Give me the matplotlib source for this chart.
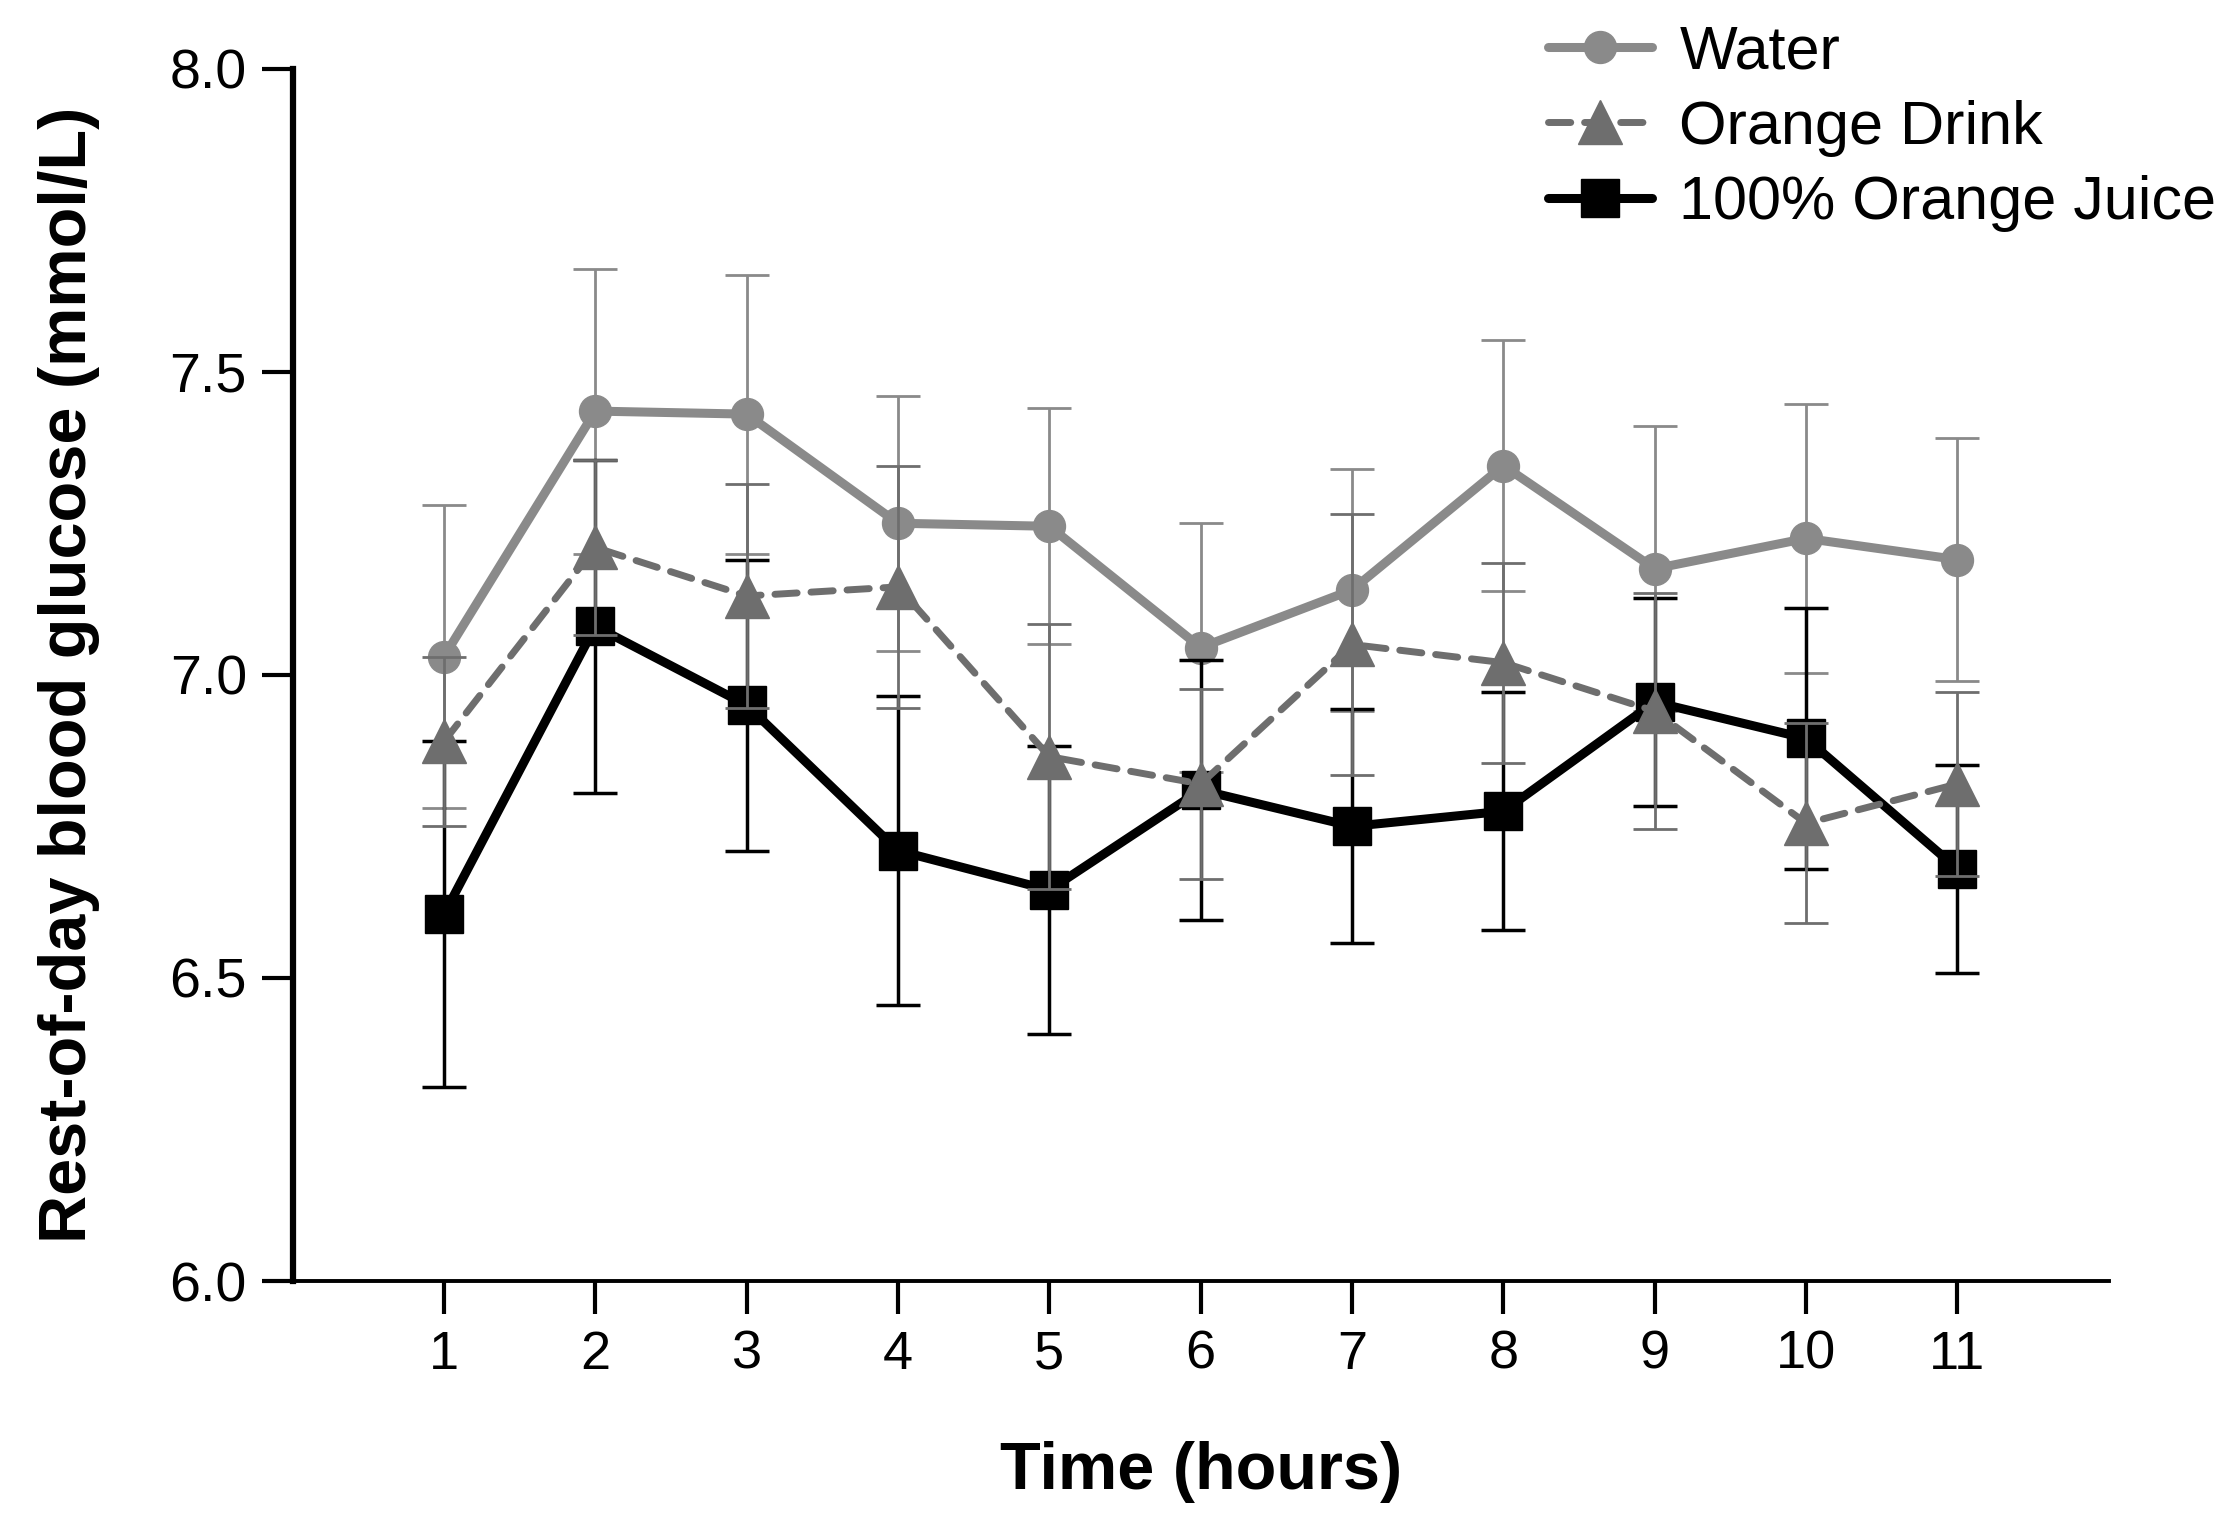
import numpy as np
import matplotlib
matplotlib.use("Agg")
import matplotlib.pyplot as plt
from matplotlib.lines import Line2D

plt.rcParams["font.family"] = ["Liberation Sans", "DejaVu Sans"]

# data
hours = [1, 2, 3, 4, 5, 6, 7, 8, 9, 10, 11]
water = [7.03, 7.435, 7.43, 7.25, 7.245, 7.045, 7.14, 7.345, 7.175, 7.225, 7.19]
water_se = [0.25, 0.235, 0.23, 0.21, 0.195, 0.205, 0.20, 0.207, 0.235, 0.222, 0.20]
drink = [6.89, 7.21, 7.13, 7.145, 6.865, 6.82, 7.05, 7.02, 6.94, 6.755, 6.82]
drink_se = [0.14, 0.145, 0.185, 0.20, 0.218, 0.157, 0.215, 0.165, 0.195, 0.165, 0.152]
juice = [6.605, 7.08, 6.95, 6.71, 6.645, 6.81, 6.75, 6.775, 6.955, 6.895, 6.68]
juice_se = [0.285, 0.275, 0.24, 0.255, 0.238, 0.215, 0.193, 0.196, 0.172, 0.216, 0.172]
labels = ["Water", "Orange Drink", "100% Orange Juice"]

c_water = "#8a8a8a"
c_drink = "#6e6e6e"
c_juice = "#000000"

fig = plt.figure(figsize=(22.37, 15.30), dpi=100)
ax = fig.add_axes([0.1308, 0.1627, 0.8119, 0.7925])

# water at the bottom, drink on top
ax.errorbar(hours, water, yerr=water_se, color=c_water, marker="o", markersize=23,
	linewidth=6.5, elinewidth=2, capsize=16, capthick=2, ecolor=c_water, zorder=2)
ax.errorbar(hours, juice, yerr=juice_se, color=c_juice, marker="s", markersize=27,
	linewidth=6.5, elinewidth=2.5, capsize=16, capthick=2.5, ecolor=c_juice, zorder=3)
eb = ax.errorbar(hours, drink, yerr=drink_se, color=c_drink, marker="^", markersize=32,
	linewidth=5, elinewidth=2, capsize=16, capthick=2, ecolor=c_drink, zorder=4)
eb[0].set_linestyle((0, (3.2, 2.0)))
eb[0].set_dash_capstyle("round")

ax.set_xlim(0, 12)
ax.set_ylim(6.0, 8.0)
ax.set_xticks(hours)
ax.set_yticks([6.0, 6.5, 7.0, 7.5, 8.0])
ax.set_yticklabels(["6.0", "6.5", "7.0", "7.5", "8.0"])
ax.tick_params(axis="y", length=22, width=3, pad=11, labelsize=40)
ax.tick_params(axis="x", length=24, width=3, pad=11, labelsize=39)

ax.spines["top"].set_visible(False)
ax.spines["right"].set_visible(False)
ax.spines["left"].set_linewidth(4.5)
ax.spines["bottom"].set_linewidth(2.8)

ax.set_xlabel("Time (hours)", fontsize=48, fontweight="bold", labelpad=44)
ax.set_ylabel("Rest-of-day blood glucose (mmol/L)", fontsize=48, fontweight="bold", labelpad=50)

# legend with plain line+marker handles (no error bars)
handles = [
	Line2D([], [], color=c_water, marker="o", markersize=23, linewidth=6.5, solid_capstyle="round"),
	Line2D([], [], color=c_drink, marker="^", markersize=32, linewidth=5,
		linestyle=(0, (3.2, 2.0)), dash_capstyle="round"),
	Line2D([], [], color=c_juice, marker="s", markersize=27, linewidth=6.5, solid_capstyle="round"),
]
fig.legend(handles, labels, loc="upper left", bbox_to_anchor=(0.692, 0.984), frameon=False,
	fontsize=44, handlelength=1.7, handletextpad=0.45, labelspacing=0.3,
	borderpad=0, borderaxespad=0)

fig.savefig("out.png", dpi=100)
